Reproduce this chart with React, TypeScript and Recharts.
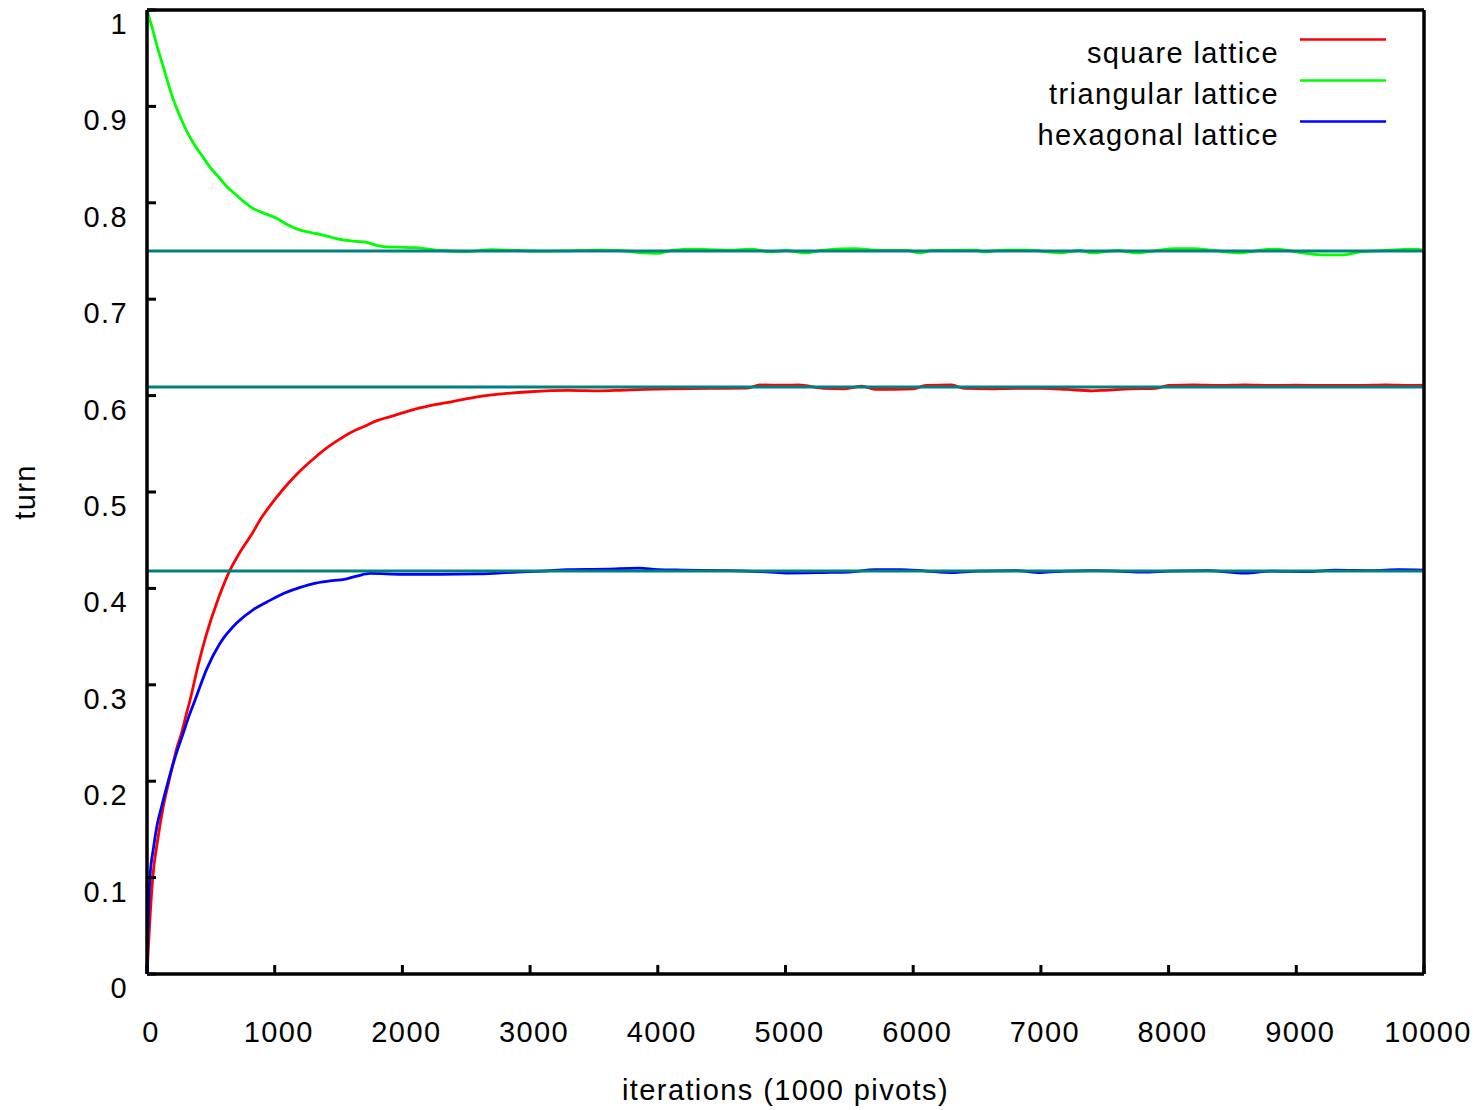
import React from 'react';
import { LineChart, Line, XAxis, YAxis } from 'recharts';

// Axis ticks
const iterationTicks = [0, 1000, 2000, 3000, 4000, 5000, 6000, 7000, 8000, 9000, 10000];
const turnTicks = [0, 0.1, 0.2, 0.3, 0.4, 0.5, 0.6, 0.7, 0.8, 0.9, 1];

// Series: [iterations (1000 pivots), turn]
const squareLattice: [number, number][] = [
  [0, 0], [8, 0.02], [20, 0.05], [45, 0.1], [85, 0.14], [128, 0.174], [165, 0.196],
  [198, 0.215], [235, 0.235], [271, 0.25], [305, 0.268], [337, 0.284], [400, 0.32],
  [467, 0.353], [560, 0.39], [650, 0.419], [730, 0.438], [810, 0.454], [900, 0.474],
  [1000, 0.492], [1100, 0.508], [1200, 0.522], [1300, 0.534], [1400, 0.545], [1500, 0.554],
  [1600, 0.562], [1700, 0.568], [1800, 0.574], [1900, 0.578], [2000, 0.582], [2100, 0.586],
  [2200, 0.589], [2400, 0.594], [2600, 0.599], [2800, 0.602], [3000, 0.604], [3300, 0.6055],
  [3550, 0.605], [3700, 0.6055], [3900, 0.6065], [4100, 0.607], [4400, 0.6075], [4700, 0.6078],
  [4800, 0.611], [5000, 0.6108], [5100, 0.611], [5300, 0.6075], [5450, 0.607], [5600, 0.6097],
  [5700, 0.6065], [5850, 0.6065], [6000, 0.607], [6100, 0.6105], [6300, 0.611], [6400, 0.6075],
  [6600, 0.607], [6800, 0.6075], [7000, 0.6075], [7200, 0.6065], [7400, 0.605], [7500, 0.6055],
  [7700, 0.607], [7900, 0.6075], [8000, 0.6105], [8200, 0.611], [8400, 0.6105], [8600, 0.611],
  [8800, 0.6105], [9000, 0.6108], [9200, 0.6105], [9500, 0.6105], [9700, 0.611], [9900, 0.6105],
  [10000, 0.6108],
];

const triangularLattice: [number, number][] = [
  [0, 1], [15, 0.993], [40, 0.982], [80, 0.962], [130, 0.94], [170, 0.922], [206, 0.907],
  [245, 0.894], [284, 0.882], [320, 0.872], [363, 0.862], [430, 0.849], [493, 0.837],
  [560, 0.827], [624, 0.817], [700, 0.808], [760, 0.801], [832, 0.794], [920, 0.789],
  [1015, 0.784], [1090, 0.778], [1172, 0.773], [1250, 0.77], [1329, 0.768], [1450, 0.764],
  [1564, 0.761], [1640, 0.76], [1721, 0.759], [1790, 0.756], [1851, 0.7545], [1950, 0.754],
  [2100, 0.7535], [2300, 0.7505], [2500, 0.7495], [2700, 0.7515], [2900, 0.7505], [3100, 0.7498],
  [3300, 0.7502], [3550, 0.751], [3700, 0.7505], [3900, 0.748], [4000, 0.7475], [4100, 0.7505],
  [4300, 0.752], [4400, 0.7515], [4600, 0.751], [4720, 0.752], [4900, 0.749], [5000, 0.7505],
  [5150, 0.748], [5300, 0.751], [5550, 0.7525], [5700, 0.751], [5950, 0.7505], [6050, 0.748],
  [6150, 0.7505], [6500, 0.7508], [6550, 0.749], [6700, 0.751], [6900, 0.751], [7150, 0.748],
  [7300, 0.7505], [7400, 0.748], [7600, 0.7505], [7750, 0.748], [7900, 0.7505], [8050, 0.7525],
  [8200, 0.7525], [8350, 0.7505], [8550, 0.748], [8700, 0.7505], [8850, 0.752], [9000, 0.749],
  [9200, 0.746], [9350, 0.746], [9500, 0.749], [9700, 0.7505], [9900, 0.752], [10000, 0.751],
];

const hexagonalLattice: [number, number][] = [
  [0, 0], [5, 0.03], [12, 0.065], [23, 0.1], [50, 0.13], [80, 0.155], [115, 0.174],
  [160, 0.197], [198, 0.215], [240, 0.233], [284, 0.25], [330, 0.268], [376, 0.284],
  [470, 0.317], [572, 0.343], [702, 0.364], [833, 0.378], [940, 0.386], [1041, 0.393],
  [1200, 0.401], [1303, 0.405], [1450, 0.408], [1564, 0.41], [1650, 0.413], [1746, 0.4155],
  [2000, 0.4145], [2300, 0.4145], [2600, 0.415], [2900, 0.417], [3100, 0.418], [3300, 0.4195],
  [3600, 0.42], [3850, 0.421], [4000, 0.4195], [4200, 0.419], [4500, 0.4185], [4800, 0.4175],
  [5000, 0.416], [5300, 0.4165], [5500, 0.417], [5700, 0.4195], [5900, 0.4195], [6100, 0.418],
  [6300, 0.4165], [6500, 0.418], [6800, 0.4185], [7000, 0.4165], [7200, 0.418], [7400, 0.4185],
  [7600, 0.418], [7800, 0.417], [8000, 0.418], [8300, 0.4185], [8600, 0.416], [8800, 0.418],
  [9100, 0.4175], [9300, 0.419], [9600, 0.4185], [9800, 0.4195], [10000, 0.419],
];

// Limiting values drawn as flat reference lines
const limitValues = [0.75, 0.609, 0.418];

const seriesNames = ['square lattice', 'triangular lattice', 'hexagonal lattice'];
const seriesColors = ['#ff0000', '#00ff00', '#0000ff'];
const seriesData = [squareLattice, triangularLattice, hexagonalLattice];
const limitColor = '#008080';

const xTitle = 'iterations (1000 pivots)';
const yTitle = 'turn';

// Layout
const WIDTH = 1484;
const HEIGHT = 1110;
const PLOT = { left: 147, top: 10, right: 1424, bottom: 974 };
const FONT = '"Liberation Sans", Arial, sans-serif';
const FONT_SIZE = 29;
const SPACING = 1.4;

const toPoints = (rows: [number, number][]) => rows.map(([x, y]) => ({ x, y }));
const limitSeries = limitValues.map((v) => [
  { x: iterationTicks[0], y: v },
  { x: iterationTicks[iterationTicks.length - 1], y: v },
]);

const XTick = (props: any) => {
  const { payload } = props;
  return (
    <text
      x={payload.coordinate + 4}
      y={PLOT.bottom + 68}
      textAnchor="middle"
      fontFamily={FONT}
      fontSize={FONT_SIZE}
      letterSpacing={SPACING}
      fill="#000"
    >
      {String(payload.value)}
    </text>
  );
};

const YTick = (props: any) => {
  const { payload } = props;
  return (
    <text
      x={PLOT.left - 19}
      y={payload.coordinate + 24}
      textAnchor="end"
      fontFamily={FONT}
      fontSize={FONT_SIZE}
      letterSpacing={SPACING}
      fill="#000"
    >
      {String(payload.value)}
    </text>
  );
};

const frameLine = { stroke: '#000', strokeWidth: 3.5 };
const tickLine = { stroke: '#000', strokeWidth: 3 };

export default function App() {
  return (
    <div style={{ position: 'absolute', left: 0, top: 0, width: WIDTH, height: HEIGHT, background: '#fff' }}>
      <LineChart
        width={WIDTH}
        height={HEIGHT}
        margin={{ top: PLOT.top - 1, right: WIDTH - PLOT.right - 1, bottom: 0, left: 0 }}
      >
        <XAxis
          xAxisId="bottom"
          dataKey="x"
          type="number"
          domain={[0, 10000]}
          ticks={iterationTicks}
          interval={0}
          height={HEIGHT - PLOT.bottom}
          tickSize={-9}
          tickMargin={0}
          axisLine={frameLine}
          tickLine={tickLine}
          tick={<XTick />}
        />
        <XAxis
          xAxisId="top"
          orientation="top"
          dataKey="x"
          type="number"
          domain={[0, 10000]}
          ticks={iterationTicks}
          interval={0}
          height={1}
          tickSize={-9}
          axisLine={frameLine}
          tickLine={tickLine}
          tick={false}
        />
        <YAxis
          yAxisId="left"
          type="number"
          domain={[0, 1]}
          ticks={turnTicks}
          interval={0}
          width={PLOT.left}
          tickSize={-9}
          tickMargin={0}
          axisLine={frameLine}
          tickLine={tickLine}
          tick={<YTick />}
        />
        <YAxis
          yAxisId="right"
          orientation="right"
          type="number"
          domain={[0, 1]}
          ticks={turnTicks}
          interval={0}
          width={1}
          tickSize={-9}
          axisLine={frameLine}
          tickLine={tickLine}
          tick={false}
        />
        {seriesData.map((rows, i) => (
          <Line
            key={seriesNames[i]}
            name={seriesNames[i]}
            xAxisId="bottom"
            yAxisId="left"
            data={toPoints(rows)}
            dataKey="y"
            type="monotone"
            stroke={seriesColors[i]}
            strokeWidth={2.8}
            dot={false}
            activeDot={false}
            isAnimationActive={false}
          />
        ))}
        {limitSeries.map((pts, i) => (
          <Line
            key={'limit-' + i}
            xAxisId="bottom"
            yAxisId="left"
            data={pts}
            dataKey="y"
            type="linear"
            stroke={limitColor}
            strokeWidth={3}
            dot={false}
            activeDot={false}
            legendType="none"
            isAnimationActive={false}
          />
        ))}
      </LineChart>

      <svg
        width={WIDTH}
        height={HEIGHT}
        style={{ position: 'absolute', left: 0, top: 0, pointerEvents: 'none' }}
      >
        {seriesNames.map((name, i) => (
          <g key={name}>
            <text
              x={1279}
              y={63 + 41 * i}
              textAnchor="end"
              fontFamily={FONT}
              fontSize={FONT_SIZE}
              letterSpacing={SPACING}
              fill="#000"
            >
              {name}
            </text>
            <line x1={1300} x2={1386} y1={39.5 + 41 * i} y2={39.5 + 41 * i} stroke={seriesColors[i]} strokeWidth={2.5} />
          </g>
        ))}
        <text
          x={(PLOT.left + PLOT.right) / 2}
          y={1100}
          textAnchor="middle"
          fontFamily={FONT}
          fontSize={FONT_SIZE}
          letterSpacing={SPACING}
          fill="#000"
        >
          {xTitle}
        </text>
        <text
          transform="translate(25, 492) rotate(-90)"
          textAnchor="middle"
          dominantBaseline="central"
          fontFamily={FONT}
          fontSize={FONT_SIZE}
          letterSpacing={SPACING}
          fill="#000"
        >
          {yTitle}
        </text>
      </svg>
    </div>
  );
}
